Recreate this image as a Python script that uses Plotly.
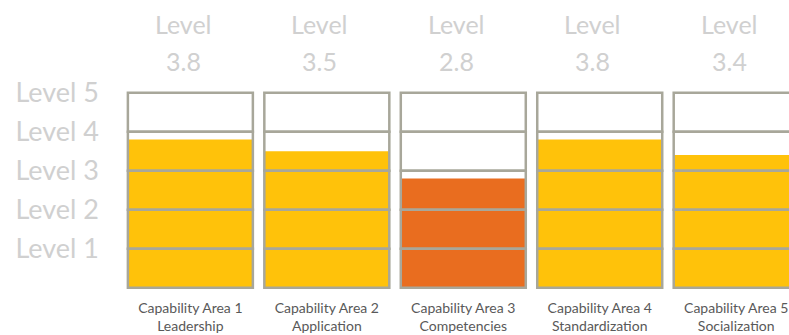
import plotly.graph_objects as go

# ---- data ----
areas = ["Capability Area 1", "Capability Area 2", "Capability Area 3",
         "Capability Area 4", "Capability Area 5"]
area_names = ["Leadership", "Application", "Competencies",
              "Standardization", "Socialization"]
levels = [3.8, 3.5, 2.8, 3.8, 3.4]
fill_colors = ["#FFC20A", "#FFC20A", "#E96D1F", "#FFC20A", "#FFC20A"]
level_ticks = [1, 2, 3, 4, 5]
level_tick_text = ["Level 1", "Level 2", "Level 3", "Level 4", "Level 5"]
max_level = 5

FONT = "Lato, 'Open Sans', sans-serif"
FRAME = "#A8A79A"
LIGHT = "#D0D0D0"
BAR_W = 0.916

xs = list(range(len(areas)))
tick_labels = [f"{a}<br>{n}" for a, n in zip(areas, area_names)]

fig = go.Figure()

# filled level bars
fig.add_trace(go.Bar(
    x=xs, y=levels, width=BAR_W,
    marker=dict(color=fill_colors, line=dict(width=0)),
    hoverinfo="skip", showlegend=False,
))

# level segments (frame + dividing lines), drawn on top
for k in range(max_level):
    fig.add_trace(go.Bar(
        x=xs, y=[1] * len(xs), base=[k] * len(xs), width=BAR_W,
        marker=dict(color="rgba(0,0,0,0)", line=dict(color=FRAME, width=2.5)),
        hoverinfo="skip", showlegend=False,
    ))

# top labels "Level / value"
for x, v in zip(xs, levels):
    fig.add_annotation(x=x, y=max_level, xref="x", yref="y", text="Level",
                       showarrow=False, yshift=69, xshift=-7,
                       font=dict(family=FONT, size=25, color=LIGHT))
    fig.add_annotation(x=x, y=max_level, xref="x", yref="y", text=f"{v:.1f}",
                       showarrow=False, yshift=32, xshift=-7,
                       font=dict(family=FONT, size=25, color=LIGHT))

fig.update_layout(
    width=789, height=335,
    margin=dict(l=110, r=0, t=80, b=40),
    paper_bgcolor="white", plot_bgcolor="white",
    barmode="overlay",
    showlegend=False,
    xaxis=dict(
        range=[-0.589, 4.387], tickmode="array", tickvals=xs,
        ticktext=tick_labels, showgrid=False, zeroline=False, showline=False,
        ticks="", ticklabelstandoff=3,
        tickfont=dict(family=FONT, size=14, color="#595959"),
        automargin=False, fixedrange=True,
    ),
    yaxis=dict(
        range=[-0.187, 5.326], tickmode="array", tickvals=level_ticks,
        ticktext=level_tick_text, showgrid=False, zeroline=False,
        showline=False, ticks="", ticklabelstandoff=10,
        tickfont=dict(family=FONT, size=27, color=LIGHT),
        automargin=False, fixedrange=True,
    ),
)

fig.write_html("out.html")
